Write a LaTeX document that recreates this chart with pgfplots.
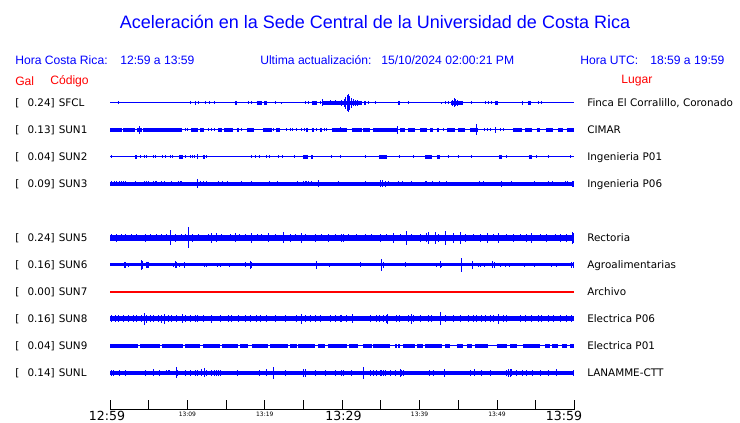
\documentclass[border=0pt]{standalone}
\usepackage{pgfplots}
\pgfplotsset{compat=1.18}
\usepackage{fontspec}
\setmainfont{DejaVu Sans}
\newfontfamily\hv{Liberation Sans}
\definecolor{sblue}{RGB}{0,0,255}
\definecolor{sred}{RGB}{255,0,0}
\pgfplotsset{
  base/.style={draw=sblue, line width=0.75pt, forget plot},
  blk/.style={draw=sblue, line width=#1, forget plot, unbounded coords=jump},
  spk/.style={only marks, mark=*, mark size=0pt, mark options={draw=none, fill=none}, forget plot, error bars/.cd, y dir=both, y explicit, error mark=none, error bar style={draw=sblue, line width=0.75pt}},
}
\newcommand\lab{\fontsize{7.8pt}{9pt}\selectfont}
\newcommand\hdr{\hv\fontsize{9.1pt}{10pt}\selectfont}
\begin{document}
\begin{tikzpicture}
\useasboundingbox (0,0) rectangle (555pt,317.25pt);
\begin{axis}[width=555pt, height=317.25pt, scale only axis, xmin=0, xmax=740, ymin=0, ymax=423, y dir=reverse, axis lines=none, clip=false]
% ---------------- SFCL y=103
\addplot[base] coordinates {(110,103)(574,103)};
\addplot[blk=3pt] table[row sep=\\, x index=0, y expr=103]{x\\235\\237\\nan\\256.7\\261.7\\nan\\264.3\\266.7\\nan\\311.7\\316.7\\nan\\323\\362\\nan\\364\\366\\nan\\398\\400\\nan\\451\\463\\nan\\495\\497.5\\nan\\528.3\\531\\};
\addplot[spk] table[row sep=\\, x index=0, y expr=103, y error index=1]{x e\\118.3 1.5\\190.7 1.5\\195 2\\198.3 1.5\\205 1.5\\209.3 1.5\\214.3 1.5\\248.3 1.5\\251 1.5\\275 1.5\\281.7 1\\305 1.5\\308.3 1.5\\320 1.5\\322.3 3.5\\330 2.5\\335 2.5\\341 3\\344 4\\345.5 6\\347 8\\348.3 9\\349.5 7\\351 5\\353 3.5\\355 3\\357 3\\368.3 1.5\\375 1.5\\408.3 1.5\\441.7 1\\445 1.5\\448.3 1.5\\452 3\\454 4.5\\455.5 3.5\\457 3\\471.7 1.5\\485 1.5\\488.3 1.5\\491.7 1.5\\522.7 2\\538 1.5\\541.7 1.5\\};
% ---------------- SUN1 y=130
\addplot[base] coordinates {(110,130)(574,130)};
\addplot[blk=3pt] table[row sep=\\, x index=0, y expr=130]{x\\110\\121.7\\nan\\123.3\\135\\nan\\136.7\\141.7\\nan\\143.3\\181.7\\nan\\191\\197.7\\nan\\200\\204.3\\nan\\218.3\\221.7\\nan\\224.3\\233.3\\nan\\236.7\\239\\nan\\247.3\\254.3\\nan\\263.3\\271.7\\nan\\276\\280\\nan\\306\\307.7\\nan\\311.7\\314.3\\nan\\320\\321.7\\nan\\331.7\\346.7\\nan\\351.7\\361.7\\nan\\363.3\\370\\nan\\373.3\\396.7\\nan\\400\\405\\nan\\408.3\\415\\nan\\420\\427.3\\nan\\430\\433.3\\nan\\436.7\\439.3\\nan\\447.3\\455\\nan\\458.3\\465\\nan\\470\\478.3\\nan\\513.3\\521.7\\nan\\525\\531.7\\nan\\536.7\\540\\nan\\546\\553.3\\nan\\558.3\\562.7\\nan\\566.7\\574\\};
\addplot[spk] table[row sep=\\, x index=0, y expr=130, y error index=1]{x e\\139.3 4\\185 1.5\\187.7 1.5\\208.3 1.5\\211.7 1.5\\214.3 1.5\\241.7 1.5\\273.3 1.5\\286.7 1.5\\290 1.5\\292.7 1.5\\296.7 1.5\\301.7 1.5\\304 1.5\\316.7 1.5\\324 1.5\\326.7 1.5\\340 2.5\\397.3 4\\443.3 1.5\\448.3 1.5\\451.7 1.5\\476.7 5.5\\484 1.5\\487 1.5\\490 1.5\\495 3\\500 1.5\\503.3 1.5\\};
% ---------------- SUN2 y=157
\addplot[base] coordinates {(110,157)(574,157)};
\addplot[blk=3pt] table[row sep=\\, x index=0, y expr=157]{x\\135\\136.7\\nan\\179\\183.3\\nan\\202.7\\205\\nan\\303.3\\308.3\\nan\\311\\313.3\\nan\\379.3\\386.7\\nan\\425\\431.7\\nan\\436.7\\440\\nan\\499.3\\501.7\\nan\\529.3\\531.7\\};
\addplot[spk] table[row sep=\\, x index=0, y expr=157, y error index=1]{x e\\111.7 1.5\\140 1.5\\144.3 1.5\\146.7 1.5\\153.3 1.5\\155.7 1.5\\162.3 1.5\\165 1.5\\170 1.5\\172.7 1.5\\185 1.5\\190 1.5\\192.3 1.5\\194.3 1.5\\197.7 2.5\\206.7 1.5\\251.7 1.5\\255 1.5\\259 1.5\\266.7 1.5\\269.3 1.5\\278.3 1.5\\282.7 1.5\\294.3 1.5\\331.7 1.5\\340 1.5\\365 1.5\\399.3 1.5\\413.3 1.5\\448.3 1.5\\458.3 1.5\\471 1.5\\506.7 1.5\\536.7 1.5\\548.3 1.5\\570 1.5\\};
% ---------------- SUN3 y=184
\addplot[blk=2.6pt] coordinates {(110,184)(574,184)};
\addplot[spk] table[row sep=\\, x index=0, y expr=184, y error index=1]{x e\\111.7 2.5\\114 2.5\\116.7 2.5\\119 2.5\\121 2.5\\123.3 2.5\\125 2.5\\135 2.5\\144.3 2.5\\146.7 2.5\\148.3 2.5\\153.3 2.5\\155 2.5\\156.7 2.5\\161.7 2.5\\164.3 2.5\\171.7 2.5\\178.3 2.5\\180 2.5\\181.7 2.5\\197 4.5\\200 2.5\\203.3 2.5\\206.7 2.5\\218.3 2.5\\222.3 2.5\\227.7 2.5\\241 2.5\\251 2.5\\269.3 2.5\\277.7 2.5\\297.7 2.5\\303.3 2.5\\305 2.5\\306.7 2.5\\308.3 2.5\\311.7 2.5\\318.3 3.5\\338.3 2.5\\365 2.5\\380.7 3.5\\382.5 3.5\\385 3\\388.3 2.5\\398.3 2.5\\402.3 2.5\\411.7 2.5\\425 2.5\\426.7 2.5\\432.7 2.5\\439 2.5\\446.7 2.5\\479.3 2.5\\483.3 2.5\\501 3\\511.7 2.5\\534.3 2.5\\548.3 2.5\\552.7 2.5\\565 2.5\\567.7 2.5\\572 3\\573.5 3\\};
% ---------------- SUN5 y=238
\addplot[blk=5pt] coordinates {(110,238)(574,238)};
\addplot[spk] table[row sep=\\, x index=0, y expr=238, y error index=1]{x e\\111 3.5\\116.7 4\\121 3.5\\125 3.5\\131.7 3.5\\136.7 3.5\\145 4\\150 3.5\\156.7 3.5\\161.7 3.5\\166.7 3.5\\170.7 7.5\\175 4\\181 3.5\\185 3.5\\188.3 10.5\\192.3 4\\198.3 3.5\\208.3 3.5\\211 5\\216.7 4.5\\221.7 3.5\\230 3.5\\235 4.5\\239.3 3.5\\245 3.5\\251.7 5\\257 3.5\\261.7 3.5\\268.3 4.5\\275 3.5\\283.3 5.5\\290 4\\295 3.5\\301.7 5\\305 3.5\\315 4\\321.7 3.5\\328.3 4\\335 3.5\\341.7 4\\343.3 4\\348.3 3.5\\356.7 3.5\\365 3.5\\371.7 3.5\\380 4\\386.7 3.5\\393.3 5\\400 3.5\\406.7 7\\411.7 3.5\\420 4\\426 4.5\\428.3 6\\435 6\\438.3 4\\445.3 7\\453.3 5\\460 6\\465 4\\473.3 3.5\\480 4\\487.7 5\\493.3 3.5\\498.3 5\\506.7 3.5\\513.3 4\\520 3.5\\526.7 4\\531.7 5\\540 3.5\\546.7 4\\555 3.5\\560 4\\566.7 4\\572.7 6\\573.7 5\\};
% ---------------- SUN6 y=265
\addplot[blk=2.25pt] coordinates {(110,265)(574,265)};
\addplot[spk] table[row sep=\\, x index=0, y expr=265, y error index=1]{x e\\124.3 3\\125.7 3\\128.3 2\\141 5\\142.3 4\\146 3\\147 3\\148.3 3\\173.3 2\\175 3.5\\176.7 3\\179 2\\184 3\\204.3 2\\206.7 2\\217.7 2\\220.3 2\\229.3 2\\245 2.5\\250 4\\251.7 3\\316.7 4\\329 2\\360 2.5\\368.3 1.5\\381 6\\383.3 3\\389.3 1.5\\405 2.5\\436.7 2\\440 3.5\\441.7 2\\461 7\\472.3 4\\478.3 2\\480 2\\484 2\\492.7 3.5\\494 3\\500 2\\505 2\\509.3 2\\524.3 2\\534.3 2\\551 2\\556 2\\571.7 3\\573 3\\};
% ---------------- SUN7 y=292
\addplot[draw=red, color=red, line width=1pt, forget plot] coordinates {(110,292)(574,292)};
% ---------------- SUN8 y=319
\addplot[blk=3.75pt] coordinates {(110,319)(574,319)};
\addplot[spk] table[row sep=\\, x index=0, y expr=319, y error index=1]{x e\\111.7 3.5\\115 3.5\\118.3 3.5\\123.3 3.5\\128.3 3.5\\133.3 3.5\\136.7 3.5\\141.7 3.5\\144.3 6\\146.7 4\\150 3.5\\153.3 3.5\\158.3 3.5\\161.7 4\\164.3 5\\168.3 3.5\\171.7 3.5\\176.7 3.5\\182.3 4.5\\185 3.5\\190 3.5\\195 3.5\\197.7 3.5\\203.3 3.5\\211.7 4\\220 3.5\\228.3 3.5\\231.7 3.5\\238.3 3.5\\245 3.5\\250.7 3.5\\256.7 3.5\\260 3.5\\266 3.5\\275 3.5\\285 3.5\\296.7 3.5\\301.7 5\\305 3.5\\310 3.5\\315 3.5\\320 3.5\\330 3.5\\335 3.5\\340 3.5\\341.7 3.5\\346.7 3.5\\352.7 4.5\\370 3.5\\376 3.5\\379.3 3.5\\383.3 3.5\\386.7 4\\387.7 5\\396.7 3.5\\399.3 3.5\\408.3 3.5\\411 5\\413.3 3.5\\420 3.5\\428.3 3.5\\431.7 3.5\\440 6.5\\445 3.5\\453.3 3.5\\460 3.5\\468.3 3.5\\473.3 3.5\\476.7 3.5\\481.7 3.5\\485 3.5\\490 3.5\\493.3 3.5\\498.3 5\\503.3 3.5\\506.7 3.5\\520 3.5\\525 3.5\\531.7 3.5\\538.3 3.5\\541.7 3.5\\548.3 3.5\\553.3 3.5\\560 3.5\\566.7 3.5\\571.7 3.5\\};
% ---------------- SUN9 y=346
\addplot[base] coordinates {(110,346)(574,346)};
\addplot[blk=2.4pt] table[row sep=\\, x index=0, y expr=346]{x\\110\\138.3\\nan\\140\\160\\nan\\161.7\\183.3\\nan\\185\\200\\nan\\203.3\\220\\nan\\222.3\\238.3\\nan\\240\\248.3\\nan\\251.7\\268.3\\nan\\270\\288.3\\nan\\290\\296.7\\nan\\298.3\\315\\nan\\318.3\\325\\nan\\328.3\\346.7\\nan\\349.3\\358.3\\nan\\363.3\\371.7\\nan\\373.3\\390\\nan\\395\\396.7\\nan\\398.3\\400\\nan\\403.3\\415\\nan\\416.7\\423.3\\nan\\425\\441.7\\nan\\445\\450\\nan\\456.7\\463.3\\nan\\466.7\\471.7\\nan\\475\\488.3\\nan\\496.7\\506.7\\nan\\510\\516.7\\nan\\523.3\\540\\nan\\545\\550\\nan\\551.7\\558.3\\nan\\561.7\\566.7\\nan\\570\\574\\};
% ---------------- SUNL y=373
\addplot[blk=2.5pt] coordinates {(110,373)(574,373)};
\addplot[spk] table[row sep=\\, x index=0, y expr=373, y error index=1]{x e\\111 3\\113.3 3\\119 3\\125 3\\145.7 3\\153.3 3.5\\159 3\\166.7 2.5\\168 2.5\\169 2.5\\176 5.5\\177.7 3\\185 3\\190 3\\195 3\\197.7 3\\201.7 3.5\\204.3 4.5\\206.7 3\\211.7 3\\214 3\\216 3\\218 3\\220 3\\237.7 3\\259.3 3\\266.7 3.5\\273.3 6\\285 3\\303.3 4\\305.7 4\\315 3\\325 3\\335 3\\341.7 3\\343.3 3\\351.7 3\\363.3 6\\370.7 3\\373.3 3\\376 3\\380 3\\381.7 3\\383.3 3\\385 3\\390 3\\395 3\\400 4\\401.7 3\\403.3 3\\429.3 3\\433.3 3\\444.3 4\\470 3\\474.3 3.5\\481.7 3\\490 3\\506.7 3\\508.3 4\\510 4\\511.7 3.5\\516.7 3\\522.7 3\\526.7 3\\532.7 3\\540.7 3\\548.3 3\\556.7 3.5\\573.3 3\\};
\end{axis}
\begin{scope}[x=0.75pt, y=-0.75pt, yshift=317.25pt]
% title and header
\node[sblue, font=\hv\fontsize{13.5pt}{16pt}\selectfont] at (375,22) {Aceleración en la Sede Central de la Universidad de Costa Rica};
\node[sblue, font=\hdr, anchor=west, inner sep=0pt] at (15,60) {Hora Costa Rica:};
\node[sblue, font=\hdr, anchor=west, inner sep=0pt] at (120,60) {12:59 a 13:59};
\node[sblue, font=\hdr, anchor=west, inner sep=0pt] at (260,60) {Ultima actualización:};
\node[sblue, font=\hdr, anchor=west, inner sep=0pt] at (381,60) {15/10/2024 02:00:21 PM};
\node[sblue, font=\hdr, anchor=west, inner sep=0pt] at (580,60) {Hora UTC:};
\node[sblue, font=\hdr, anchor=west, inner sep=0pt] at (650,60) {18:59 a 19:59};
\node[sred, font=\hdr, anchor=west, inner sep=0pt] at (15,81) {Gal};
\node[sred, font=\hdr, anchor=west, inner sep=0pt] at (50,81) {Código};
\node[sred, font=\hdr, anchor=west, inner sep=0pt] at (621,81) {Lugar};
% trace labels
\foreach \yy/\vv/\cc/\pp in {103/0.24/SFCL/{Finca El Corralillo, Coronado}, 130/0.13/SUN1/CIMAR, 157/0.04/SUN2/Ingenieria P01, 184/0.09/SUN3/Ingenieria P06, 238/0.24/SUN5/Rectoria, 265/0.16/SUN6/Agroalimentarias, 292/0.00/SUN7/Archivo, 319/0.16/SUN8/Electrica P06, 346/0.04/SUN9/Electrica P01, 373/0.14/SUNL/LANAMME-CTT}{
  \node[font=\lab, anchor=base west, inner sep=0pt] at (15,\yy+3.8) {[};
  \node[font=\lab, anchor=base east, inner sep=0pt] at (55,\yy+3.8) {\vv]};
  \node[font=\lab, anchor=base west, inner sep=0pt] at (58.5,\yy+3.8) {\cc};
  \node[font=\lab, anchor=base west, inner sep=0pt] at (587,\yy+3.8) {\pp};
}
% time axis
\draw[black, line width=0.75pt] (110,409.5) -- (574.5,409.5);
\foreach \k in {0,...,12}{ \draw[black, line width=0.75pt] ({110+\k*38.7},409.5) -- ({110+\k*38.7},400); }
\node[font=\fontsize{9.4pt}{10pt}\selectfont, inner sep=0pt] at (107,415.5) {12:59};
\node[font=\fontsize{9.4pt}{10pt}\selectfont, inner sep=0pt] at (343.5,415.5) {13:29};
\node[font=\fontsize{9.4pt}{10pt}\selectfont, inner sep=0pt] at (564,415.5) {13:59};
\node[font=\fontsize{4.5pt}{5pt}\selectfont, inner sep=0pt] at (187.4,414) {13:09};
\node[font=\fontsize{4.5pt}{5pt}\selectfont, inner sep=0pt] at (264.8,414) {13:19};
\node[font=\fontsize{4.5pt}{5pt}\selectfont, inner sep=0pt] at (419.6,414) {13:39};
\node[font=\fontsize{4.5pt}{5pt}\selectfont, inner sep=0pt] at (497,414) {13:49};
\end{scope}
\end{tikzpicture}
\end{document}
